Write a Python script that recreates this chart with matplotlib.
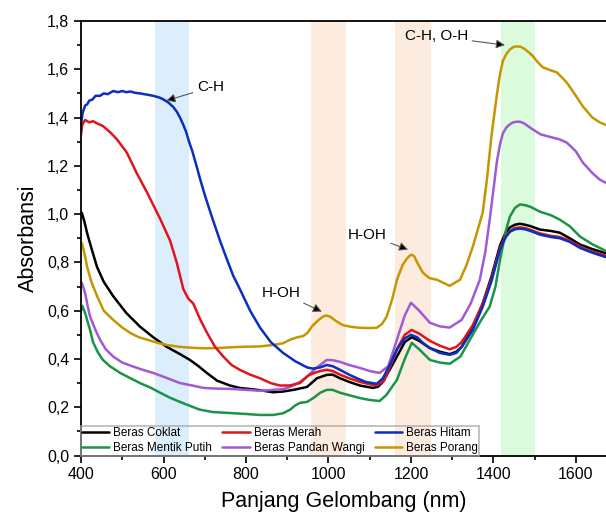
import matplotlib
matplotlib.use('Agg')
import matplotlib.pyplot as plt
from matplotlib.ticker import FuncFormatter, MultipleLocator

plt.rcParams['font.family'] = ['Liberation Sans', 'DejaVu Sans']

# Beras Hitam (blue)
hitam_x = [400, 404, 410, 415, 420, 428, 435, 446, 455, 465, 478, 490, 500, 510, 520, 530, 543,
           560, 575, 590, 600, 612, 623, 632, 640, 648, 655, 662, 670, 680, 688, 700, 717, 737,
           750, 769, 785, 810, 834, 860, 890, 920, 948, 962, 980, 996, 1010, 1028, 1050, 1069,
           1090, 1117, 1132, 1150, 1166, 1185, 1200, 1215, 1230, 1246, 1270, 1294, 1310, 1323,
           1350, 1374, 1395, 1416, 1430, 1440, 1452, 1464, 1477, 1490, 1513, 1540, 1561, 1585,
           1610, 1640, 1672]
hitam_y = [1.37, 1.42, 1.45, 1.455, 1.47, 1.475, 1.49, 1.49, 1.50, 1.497, 1.51, 1.505, 1.51,
           1.505, 1.508, 1.503, 1.50, 1.495, 1.49, 1.483, 1.475, 1.462, 1.445, 1.425, 1.40, 1.37,
           1.34, 1.30, 1.26, 1.20, 1.15, 1.08, 0.99, 0.89, 0.83, 0.745, 0.69, 0.60, 0.53, 0.47,
           0.425, 0.39, 0.365, 0.36, 0.365, 0.375, 0.37, 0.355, 0.335, 0.32, 0.305, 0.297, 0.32,
           0.38, 0.44, 0.485, 0.50, 0.49, 0.465, 0.445, 0.425, 0.417, 0.425, 0.45, 0.52, 0.616,
           0.72, 0.853, 0.905, 0.927, 0.937, 0.94, 0.937, 0.93, 0.915, 0.905, 0.90, 0.885, 0.86,
           0.84, 0.822]

# Beras Merah (red)
merah_x = [400, 403, 410, 420, 429, 440, 453, 470, 487, 511, 535, 560, 592, 616, 632, 648, 660,
           672, 690, 705, 725, 745, 765, 785, 810, 834, 860, 882, 905, 931, 950, 962, 980, 996,
           1010, 1028, 1050, 1076, 1100, 1117, 1135, 1150, 1166, 1185, 1202, 1220, 1246, 1270,
           1294, 1310, 1323, 1350, 1374, 1395, 1416, 1430, 1440, 1452, 1464, 1477, 1490, 1513,
           1540, 1561, 1585, 1610, 1640, 1672]
merah_y = [1.33, 1.37, 1.39, 1.38, 1.385, 1.375, 1.365, 1.34, 1.31, 1.255, 1.17, 1.09, 0.98,
           0.89, 0.80, 0.69, 0.65, 0.63, 0.56, 0.51, 0.45, 0.41, 0.375, 0.355, 0.335, 0.32, 0.30,
           0.29, 0.29, 0.30, 0.33, 0.34, 0.35, 0.355, 0.35, 0.335, 0.32, 0.305, 0.295, 0.29, 0.31,
           0.37, 0.44, 0.50, 0.52, 0.505, 0.475, 0.455, 0.44, 0.45, 0.47, 0.54, 0.63, 0.73, 0.86,
           0.91, 0.93, 0.942, 0.945, 0.942, 0.935, 0.92, 0.91, 0.905, 0.89, 0.865, 0.845, 0.828]

# Beras Coklat (black)
coklat_x = [400, 402, 408, 415, 425, 439, 455, 478, 510, 543, 575, 608, 640, 664, 685, 705, 730,
            761, 785, 827, 866, 890, 915, 948, 972, 996, 1010, 1028, 1050, 1076, 1108, 1120, 1132,
            1150, 1166, 1185, 1202, 1220, 1246, 1270, 1294, 1310, 1323, 1350, 1374, 1395, 1416,
            1430, 1440, 1452, 1464, 1477, 1490, 1513, 1540, 1561, 1585, 1610, 1640, 1672]
coklat_y = [0.99, 1.005, 0.97, 0.92, 0.86, 0.78, 0.72, 0.66, 0.59, 0.534, 0.49, 0.45, 0.42,
            0.396, 0.37, 0.342, 0.31, 0.29, 0.28, 0.272, 0.262, 0.265, 0.272, 0.284, 0.32, 0.334,
            0.335, 0.32, 0.305, 0.29, 0.28, 0.285, 0.305, 0.36, 0.41, 0.47, 0.49, 0.475, 0.445,
            0.43, 0.42, 0.43, 0.45, 0.53, 0.63, 0.74, 0.87, 0.925, 0.945, 0.956, 0.96, 0.956, 0.95,
            0.936, 0.93, 0.923, 0.90, 0.874, 0.855, 0.838]

# Beras Mentik Putih (green)
mentik_x = [400, 403, 410, 415, 422, 429, 440, 453, 470, 495, 520, 543, 570, 592, 615, 640, 665,
            688, 720, 761, 800, 834, 866, 890, 907, 920, 931, 948, 965, 980, 996, 1010, 1028, 1050,
            1076, 1100, 1124, 1140, 1166, 1185, 1202, 1220, 1246, 1270, 1294, 1320, 1343, 1370,
            1391, 1405, 1416, 1430, 1440, 1452, 1464, 1477, 1490, 1513, 1540, 1561, 1585, 1610,
            1640, 1672]
mentik_y = [0.60, 0.62, 0.59, 0.56, 0.52, 0.47, 0.43, 0.396, 0.37, 0.342, 0.32, 0.30, 0.28, 0.26,
            0.24, 0.222, 0.205, 0.19, 0.18, 0.176, 0.172, 0.168, 0.168, 0.175, 0.19, 0.208, 0.218,
            0.222, 0.24, 0.26, 0.272, 0.272, 0.26, 0.25, 0.238, 0.23, 0.226, 0.25, 0.313, 0.40,
            0.467, 0.44, 0.396, 0.385, 0.38, 0.41, 0.48, 0.56, 0.617, 0.70, 0.81, 0.93, 0.99,
            1.025, 1.04, 1.037, 1.03, 1.01, 0.995, 0.977, 0.95, 0.907, 0.875, 0.848]

# Beras Pandan Wangi (purple)
pandan_x = [400, 402, 410, 416, 422, 435, 446, 460, 478, 500, 527, 550, 575, 610, 640, 670, 697,
            730, 761, 800, 834, 866, 890, 907, 920, 931, 948, 965, 980, 996, 1010, 1028, 1050, 1076,
            1100, 1124, 1145, 1166, 1185, 1200, 1220, 1246, 1270, 1294, 1323, 1345, 1367, 1380,
            1391, 1400, 1408, 1416, 1423, 1432, 1440, 1448, 1457, 1466, 1475, 1496, 1515, 1537,
            1560, 1578, 1600, 1617, 1640, 1658, 1672]
pandan_y = [0.70, 0.715, 0.673, 0.62, 0.575, 0.52, 0.48, 0.44, 0.41, 0.385, 0.368, 0.355, 0.342,
            0.32, 0.30, 0.29, 0.28, 0.277, 0.276, 0.272, 0.268, 0.272, 0.275, 0.284, 0.295, 0.305,
            0.326, 0.355, 0.375, 0.396, 0.395, 0.388, 0.375, 0.363, 0.35, 0.342, 0.37, 0.48, 0.58,
            0.633, 0.60, 0.55, 0.535, 0.53, 0.562, 0.63, 0.728, 0.84, 0.977, 1.10, 1.213, 1.29,
            1.335, 1.36, 1.372, 1.38, 1.383, 1.382, 1.375, 1.35, 1.33, 1.32, 1.31, 1.296, 1.26,
            1.213, 1.17, 1.143, 1.13]

# Beras Porang (gold)
porang_x = [400, 402, 408, 415, 425, 439, 455, 478, 500, 519, 540, 560, 585, 608, 640, 672, 705,
            737, 785, 834, 866, 890, 907, 925, 939, 950, 960, 975, 987, 995, 1004, 1020, 1035, 1055,
            1076, 1100, 1117, 1130, 1141, 1155, 1166, 1180, 1190, 1197, 1202, 1208, 1215, 1229,
            1245, 1263, 1294, 1319, 1335, 1350, 1374, 1384, 1395, 1408, 1416, 1423, 1432, 1440,
            1448, 1457, 1466, 1475, 1486, 1496, 1508, 1520, 1535, 1554, 1578, 1600, 1617, 1640,
            1658, 1672]
porang_y = [0.87, 0.88, 0.84, 0.78, 0.72, 0.66, 0.60, 0.562, 0.53, 0.508, 0.49, 0.48, 0.467,
            0.458, 0.45, 0.446, 0.444, 0.446, 0.45, 0.452, 0.458, 0.465, 0.48, 0.49, 0.495, 0.51,
            0.535, 0.56, 0.576, 0.58, 0.575, 0.555, 0.54, 0.533, 0.529, 0.528, 0.529, 0.545, 0.575,
            0.65, 0.728, 0.79, 0.815, 0.828, 0.832, 0.825, 0.80, 0.757, 0.735, 0.728, 0.703, 0.728,
            0.79, 0.865, 1.006, 1.14, 1.32, 1.49, 1.58, 1.635, 1.665, 1.682, 1.692, 1.695, 1.693,
            1.685, 1.67, 1.654, 1.628, 1.608, 1.598, 1.587, 1.545, 1.49, 1.446, 1.40, 1.38, 1.37]

bands = [(580, 662, '#dcedfb'), (958, 1042, '#fcebdf'), (1162, 1248, '#fcebdf'),
         (1418, 1500, '#dcfadc')]

fig = plt.figure(figsize=(6.06, 5.21), dpi=100)
ax = fig.add_axes([0.1337, 0.1257, 0.8663, 0.834])

for lo, hi, c in bands:
    ax.axvspan(lo, hi, color=c, lw=0, zorder=0)

lw = 1.8
style = dict(lw=lw, solid_joinstyle='round', solid_capstyle='round')
l_coklat, = ax.plot(coklat_x, coklat_y, color='black', label='Beras Coklat', **style)
l_mentik, = ax.plot(mentik_x, mentik_y, color='#1a9446', label='Beras Mentik Putih', **style)
l_pandan, = ax.plot(pandan_x, pandan_y, color='#a05ad6', label='Beras Pandan Wangi', **style)
l_porang, = ax.plot(porang_x, porang_y, color='#c69500', label='Beras Porang', **style)
l_merah, = ax.plot(merah_x, merah_y, color='#e0151b', label='Beras Merah', **style)
l_hitam, = ax.plot(hitam_x, hitam_y, color='#0a2fc0', label='Beras Hitam', **style)

ax.set_xlim(400, 1673)
ax.set_ylim(0, 1.8)
ax.xaxis.set_major_locator(MultipleLocator(200))
ax.xaxis.set_minor_locator(MultipleLocator(100))
ax.yaxis.set_major_locator(MultipleLocator(0.2))
ax.yaxis.set_minor_locator(MultipleLocator(0.1))
ax.yaxis.set_major_formatter(FuncFormatter(lambda v, p: '{:.1f}'.format(v).replace('.', ',')))
ax.tick_params(which='major', direction='out', length=5, width=1.2, labelsize=11.5,
               top=False, right=False)
ax.tick_params(which='minor', direction='out', length=3, width=1.2, top=False, right=False)
ax.spines['right'].set_visible(False)
for s in ['left', 'bottom', 'top']:
    ax.spines[s].set_linewidth(1.3)

ax.set_xlabel('Panjang Gelombang (nm)', fontsize=15.5, labelpad=6)
ax.set_ylabel('Absorbansi', fontsize=15.5, labelpad=6)

arrow = dict(arrowstyle='-|>', ec='0.35', fc='black', lw=0.8, mutation_scale=13,
             shrinkA=1, shrinkB=0)
ax.annotate('C-H', xy=(607, 1.47), xytext=(681, 1.525), fontsize=11,
            va='center', ha='left', arrowprops=arrow)
ax.annotate('H-OH', xy=(984, 0.596), xytext=(839, 0.674), fontsize=11,
            va='center', ha='left', arrowprops=arrow)
ax.annotate('H-OH', xy=(1193, 0.853), xytext=(1047, 0.915), fontsize=11,
            va='center', ha='left', arrowprops=arrow)
ax.annotate('C-H, O-H', xy=(1428, 1.70), xytext=(1185, 1.737), fontsize=11,
            va='center', ha='left', arrowprops=arrow)

handles = [l_coklat, l_mentik, l_merah, l_pandan, l_hitam, l_porang]
leg = ax.legend(handles=handles, ncol=3, loc='lower left', mode='expand',
                bbox_to_anchor=(0, 0, 0.758, 0.074), borderaxespad=0, borderpad=0.1,
                fontsize=8.5, handlelength=2.3, handletextpad=0.35, labelspacing=0.25,
                columnspacing=0.5, fancybox=False, frameon=True)
leg.get_frame().set_facecolor('none')
leg.get_frame().set_edgecolor('0.65')
leg.get_frame().set_linewidth(1.2)

fig.savefig('out.png', dpi=100)
